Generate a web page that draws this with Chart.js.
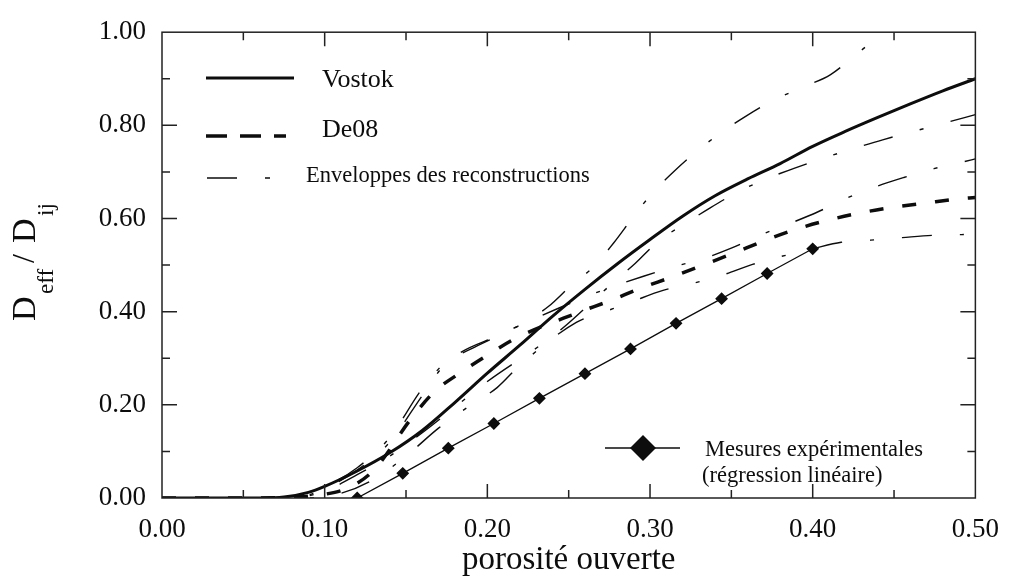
<!DOCTYPE html>
<html>
<head>
<meta charset="utf-8">
<script src="https://cdn.jsdelivr.net/npm/chart.js@4.4.1/dist/chart.umd.min.js"></script>
<style>
  html, body { margin: 0; padding: 0; background: #fff; }
  #wrap { width: 1015px; height: 580px; }
</style>
</head>
<body>
<div id="wrap"><canvas id="chart" width="1015" height="580"></canvas></div>
<script>
// porosité ouverte (x) -> D_eff / D_ij (y)
var vostokX = [0, 0.03, 0.06, 0.075, 0.09, 0.10, 0.12, 0.14, 0.16, 0.18, 0.20, 0.22, 0.24, 0.26, 0.28, 0.30, 0.32, 0.34, 0.36, 0.38, 0.40, 0.42, 0.44, 0.46, 0.48, 0.50];
var vostokY = [0, 0, 0, 0.002, 0.012, 0.025, 0.058, 0.097, 0.145, 0.205, 0.268, 0.328, 0.39, 0.448, 0.503, 0.555, 0.605, 0.649, 0.685, 0.718, 0.755, 0.787, 0.817, 0.846, 0.874, 0.90];

var de08X = [0, 0.05, 0.08, 0.10, 0.114, 0.13, 0.1535, 0.1677, 0.183, 0.20, 0.217, 0.2557, 0.275, 0.294, 0.313, 0.3325, 0.351, 0.37, 0.389, 0.405, 0.4286, 0.449, 0.469, 0.489, 0.50];
var de08Y = [0, 0, 0.002, 0.008, 0.021, 0.059, 0.172, 0.229, 0.268, 0.3065, 0.342, 0.398, 0.423, 0.45, 0.474, 0.50, 0.525, 0.552, 0.576, 0.5925, 0.6116, 0.624, 0.633, 0.642, 0.645];

// enveloppes des reconstructions (Vostok haut/bas, De08 haut/bas)
var env1X = [0, 0.07, 0.10, 0.12, 0.14, 0.16, 0.174, 0.19, 0.209, 0.223, 0.2375, 0.252, 0.266, 0.2775, 0.29, 0.301, 0.315, 0.33, 0.344, 0.36, 0.377, 0.394, 0.411, 0.427, 0.441, 0.45];
var env1Y = [0, 0, 0.025, 0.065, 0.13, 0.235, 0.29, 0.32, 0.352, 0.377, 0.411, 0.458, 0.4985, 0.547, 0.605, 0.653, 0.702, 0.748, 0.785, 0.822, 0.856, 0.882, 0.909, 0.953, 0.993, 1.02];

var env2X = [0, 0.08, 0.10, 0.12, 0.14, 0.16, 0.18, 0.20, 0.2344, 0.2486, 0.2627, 0.2775, 0.291, 0.305, 0.322, 0.337, 0.354, 0.372, 0.3885, 0.406, 0.425, 0.443, 0.462, 0.48, 0.50];
var env2Y = [0, 0, 0.015, 0.05, 0.09, 0.14, 0.195, 0.25, 0.3326, 0.3714, 0.416, 0.463, 0.504, 0.551, 0.59, 0.623, 0.657, 0.686, 0.7076, 0.729, 0.75, 0.769, 0.787, 0.804, 0.823];

var env3X = [0, 0.08, 0.10, 0.12, 0.14, 0.16, 0.174, 0.2087, 0.225, 0.262, 0.278, 0.296, 0.3153, 0.332, 0.3507, 0.369, 0.385, 0.403, 0.4205, 0.4377, 0.456, 0.4745, 0.4929, 0.50];
var env3Y = [0, 0, 0.02, 0.06, 0.12, 0.22, 0.287, 0.352, 0.3786, 0.434, 0.455, 0.476, 0.497, 0.513, 0.5375, 0.566, 0.588, 0.614, 0.643, 0.667, 0.688, 0.707, 0.722, 0.728];

var env4X = [0, 0.09, 0.11, 0.13, 0.15, 0.17, 0.19, 0.206, 0.22, 0.2547, 0.2708, 0.29, 0.308, 0.325, 0.344, 0.363, 0.38, 0.40, 0.4175, 0.4357, 0.455, 0.4745, 0.50];
var env4Y = [0, 0, 0.01, 0.04, 0.09, 0.15, 0.20, 0.237, 0.285, 0.377, 0.398, 0.423, 0.4456, 0.4597, 0.478, 0.5014, 0.518, 0.535, 0.549, 0.5536, 0.559, 0.564, 0.566];

// mesures expérimentales (régression linéaire)
var mesX = [0.12, 0.148, 0.176, 0.204, 0.232, 0.26, 0.288, 0.316, 0.344, 0.372, 0.40];
var mesY = [0.0, 0.053, 0.107, 0.160, 0.214, 0.267, 0.320, 0.375, 0.428, 0.482, 0.535];

var xTicks = [0, 0.1, 0.2, 0.3, 0.4, 0.5];
var yTicks = [0, 0.2, 0.4, 0.6, 0.8, 1.0];

var SERIF = '"Liberation Serif", "Times New Roman", "DejaVu Serif", serif';
var INK = '#0d0d0d';
var ENV_DASH = [30, 28, 4, 28];
var DE08_DASH = [14, 19];

function pts(xs, ys) {
  return xs.map(function (x, i) { return { x: x, y: ys[i] }; });
}

function envelope(xs, ys) {
  return {
    data: pts(xs, ys),
    borderColor: INK,
    borderWidth: 1.4,
    borderDash: ENV_DASH,
    pointRadius: 0,
    cubicInterpolationMode: 'monotone',
    fill: false
  };
}

// frame on the four sides with inward major/minor ticks
var frameTicks = {
  id: 'frameTicks',
  afterDatasetsDraw: function (chart) {
    var ctx = chart.ctx, a = chart.chartArea;
    var sx = chart.scales.x, sy = chart.scales.y;
    ctx.save();
    ctx.strokeStyle = '#222';
    ctx.lineWidth = 1.5;
    ctx.strokeRect(a.left, a.top, a.right - a.left, a.bottom - a.top);
    ctx.beginPath();
    for (var i = 1; i < 10; i++) {
      var px = sx.getPixelForValue(i * 0.05);
      var len = i % 2 ? 8 : 14;
      ctx.moveTo(px, a.bottom); ctx.lineTo(px, a.bottom - len);
      ctx.moveTo(px, a.top); ctx.lineTo(px, a.top + len);
    }
    for (var j = 1; j < 10; j++) {
      var py = sy.getPixelForValue(j * 0.1);
      var l2 = j % 2 ? 8 : 15;
      ctx.moveTo(a.left, py); ctx.lineTo(a.left + l2, py);
      ctx.moveTo(a.right, py); ctx.lineTo(a.right - l2, py);
    }
    ctx.stroke();
    ctx.restore();
  }
};

// y title with subscripts, and the two legend blocks
var annotations = {
  id: 'annotations',
  afterDraw: function (chart) {
    var ctx = chart.ctx;
    ctx.save();
    ctx.fillStyle = INK;
    ctx.strokeStyle = INK;
    ctx.textBaseline = 'alphabetic';
    ctx.textAlign = 'left';

    // D_eff / D_ij
    ctx.save();
    ctx.translate(35, 321);
    ctx.rotate(-Math.PI / 2);
    ctx.font = '34px ' + SERIF;
    ctx.fillText('D', 0, 0);
    ctx.font = '23px ' + SERIF;
    ctx.fillText('eff', 27, 18);
    ctx.font = '32px ' + SERIF;
    ctx.fillText('/', 58, -1);
    ctx.font = '34px ' + SERIF;
    ctx.fillText('D', 78, 0);
    ctx.font = '23px ' + SERIF;
    ctx.fillText('ij', 105, 18);
    ctx.restore();

    // legend: Vostok / De08 / Enveloppes
    ctx.lineCap = 'butt';
    ctx.lineWidth = 3;
    ctx.setLineDash([]);
    ctx.beginPath(); ctx.moveTo(206, 78); ctx.lineTo(294, 78); ctx.stroke();
    ctx.lineWidth = 3.5;
    ctx.setLineDash([21, 13]);
    ctx.beginPath(); ctx.moveTo(206, 136); ctx.lineTo(286, 136); ctx.stroke();
    ctx.lineWidth = 1.4;
    ctx.setLineDash([30, 28, 5, 100]);
    ctx.beginPath(); ctx.moveTo(207, 178); ctx.lineTo(271, 178); ctx.stroke();
    ctx.setLineDash([]);
    ctx.font = '26px ' + SERIF;
    ctx.fillText('Vostok', 322, 87);
    ctx.fillText('De08', 322, 137);
    ctx.font = '22.5px ' + SERIF;
    ctx.fillText('Enveloppes des reconstructions', 306, 182);

    // legend: mesures expérimentales
    ctx.lineWidth = 1.3;
    ctx.beginPath(); ctx.moveTo(605, 448); ctx.lineTo(680, 448); ctx.stroke();
    ctx.beginPath();
    ctx.moveTo(643, 435); ctx.lineTo(656, 448); ctx.lineTo(643, 461); ctx.lineTo(630, 448);
    ctx.closePath(); ctx.fill();
    ctx.font = '22.5px ' + SERIF;
    ctx.fillText('Mesures expérimentales', 705, 456);
    ctx.fillText('(régression linéaire)', 702, 482);
    ctx.restore();
  }
};

new Chart(document.getElementById('chart'), {
  type: 'line',
  data: {
    datasets: [
      envelope(env1X, env1Y),
      envelope(env2X, env2Y),
      envelope(env3X, env3Y),
      envelope(env4X, env4Y),
      {
        label: 'De08',
        data: pts(de08X, de08Y),
        borderColor: INK,
        borderWidth: 3.5,
        borderDash: DE08_DASH,
        pointRadius: 0,
        cubicInterpolationMode: 'monotone',
        fill: false
      },
      {
        label: 'Vostok',
        data: pts(vostokX, vostokY),
        borderColor: INK,
        borderWidth: 3,
        pointRadius: 0,
        cubicInterpolationMode: 'monotone',
        fill: false
      },
      {
        label: 'Mesures expérimentales',
        data: pts(mesX, mesY),
        borderColor: INK,
        borderWidth: 1.3,
        pointStyle: 'rectRot',
        pointRadius: 5.5,
        pointBackgroundColor: INK,
        pointBorderColor: INK,
        tension: 0,
        fill: false
      }
    ]
  },
  options: {
    responsive: false,
    animation: false,
    layout: { padding: { top: 26, right: 29, left: 0, bottom: 0 } },
    plugins: { legend: { display: false }, tooltip: { enabled: false } },
    scales: {
      x: {
        type: 'linear',
        min: 0, max: 0.5,
        afterBuildTicks: function (s) { s.ticks = xTicks.map(function (v) { return { value: v }; }); },
        afterFit: function (s) { s.height = 82; },
        grid: { display: false, drawTicks: false },
        border: { display: false },
        ticks: {
          padding: 16,
          color: INK,
          font: { family: SERIF, size: 27 },
          callback: function (v) { return Number(v).toFixed(2); }
        },
        title: {
          display: true,
          text: 'porosité ouverte',
          color: INK,
          font: { family: SERIF, size: 33 },
          padding: { top: 0, bottom: 0 }
        }
      },
      y: {
        type: 'linear',
        min: 0, max: 1,
        afterBuildTicks: function (s) { s.ticks = yTicks.map(function (v) { return { value: v }; }); },
        afterFit: function (s) { s.width = 162; },
        grid: { display: false, drawTicks: false },
        border: { display: false },
        ticks: {
          padding: 16,
          color: INK,
          font: { family: SERIF, size: 27 },
          callback: function (v) { return Number(v).toFixed(2); }
        }
      }
    }
  },
  plugins: [frameTicks, annotations]
});
</script>
</body>
</html>
